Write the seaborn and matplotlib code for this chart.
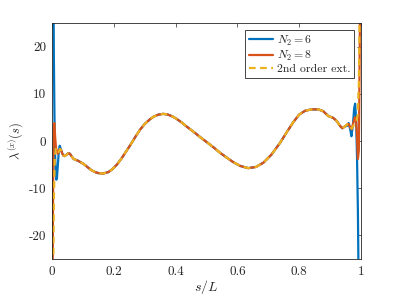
import numpy as np
import pandas as pd
import matplotlib
matplotlib.use("Agg")
import matplotlib.pyplot as plt
import seaborn as sns

# ---- data ----
mid_s = [0.033, 0.037, 0.041, 0.047, 0.053, 0.058, 0.064, 0.070, 0.077, 0.085,
         0.095, 0.101, 0.107, 0.118, 0.128, 0.140, 0.150, 0.165, 0.182, 0.195,
         0.210, 0.225, 0.240, 0.255, 0.270, 0.285, 0.300, 0.317, 0.330, 0.345,
         0.360, 0.375, 0.390, 0.403, 0.420, 0.435, 0.447, 0.465, 0.480, 0.500,
         0.520, 0.544, 0.565, 0.587, 0.610, 0.635, 0.660, 0.684, 0.710, 0.738,
         0.760, 0.781, 0.800, 0.819, 0.840, 0.862, 0.878, 0.894, 0.910, 0.922,
         0.932, 0.940, 0.948]
mid_v = [-2.6, -3.1, -3.2, -2.9, -2.6, -2.7, -3.3, -3.8, -4.0, -4.2,
         -4.6, -4.8, -5.1, -5.7, -6.2, -6.6, -6.8, -6.9, -6.6, -6.0,
         -5.0, -3.7, -2.2, -0.7, 0.9, 2.4, 3.6, 4.6, 5.2, 5.6,
         5.75, 5.6, 5.2, 4.7, 3.9, 3.1, 2.5, 1.6, 0.8, -0.2,
         -1.2, -2.5, -3.5, -4.5, -5.3, -5.75, -5.5, -4.6, -2.9, -0.4,
         1.9, 4.0, 5.6, 6.4, 6.7, 6.7, 6.3, 5.3, 4.9, 4.2,
         3.2, 2.7, 3.1]

n6_left_s = [0.0, 0.002, 0.004, 0.006, 0.008, 0.010, 0.012, 0.014, 0.016, 0.019, 0.022, 0.025, 0.028]
n6_left_v = [95, 70, 40, 18, 5, -3, -7, -8.2, -7.8, -5, -2.2, -1.0, -1.6]
n6_right_s = [0.955, 0.960, 0.965, 0.969, 0.974, 0.978, 0.981, 0.984, 0.987, 0.990, 0.993, 0.996, 1.0]
n6_right_v = [3.2, 3.8, 2.5, 1.0, 3.5, 7.0, 7.9, 5.0, -3, -15, -35, -60, -90]

n8_left_s = [0.0, 0.002, 0.004, 0.006, 0.008, 0.010, 0.013, 0.016, 0.019, 0.022, 0.026, 0.030]
n8_left_v = [-70, -30, -5, 3.5, 3.8, 1.0, -1.5, -2.0, -2.7, -2.2, -1.7, -2.0]
n8_right_s = [0.955, 0.960, 0.965, 0.970, 0.975, 0.980, 0.984, 0.987, 0.990, 0.993, 0.996, 1.0]
n8_right_v = [3.5, 3.6, 2.9, 2.5, 3.8, 5.0, 4.5, 1.0, -3.8, -2.0, 20, 70]

ext_left_s = [0.0, 0.002, 0.004, 0.006, 0.009, 0.012, 0.016, 0.019, 0.022, 0.026, 0.030]
ext_left_v = [-90, -55, -28, -12, -4, -1.7, -1.9, -2.6, -2.2, -1.7, -2.0]
ext_right_s = [0.955, 0.960, 0.965, 0.970, 0.975, 0.980, 0.985, 0.989, 0.993, 0.997, 1.0]
ext_right_v = [3.5, 3.6, 3.0, 2.6, 3.2, 3.8, 4.2, 5.5, 12, 35, 80]

labels = [r"$N_2=6$", r"$N_2=8$", "2nd order ext."]
xticks = [0, 0.2, 0.4, 0.6, 0.8, 1]
xticklabels = ["0", "0.2", "0.4", "0.6", "0.8", "1"]
yticks = [-20, -10, 0, 10, 20]
yticklabels = ["-20", "-10", "0", "10", "20"]

frames = []
for lab, ls_, lv_, rs_, rv_ in [
    (labels[0], n6_left_s, n6_left_v, n6_right_s, n6_right_v),
    (labels[1], n8_left_s, n8_left_v, n8_right_s, n8_right_v),
    (labels[2], ext_left_s, ext_left_v, ext_right_s, ext_right_v),
]:
    s = list(ls_) + list(mid_s) + list(rs_)
    v = list(lv_) + list(mid_v) + list(rv_)
    frames.append(pd.DataFrame({"s": s, "lam": v, "series": lab}))
df = pd.concat(frames, ignore_index=True)

# ---- style ----
sns.set_theme(style="white")
plt.rcParams["font.family"] = ["cmr10", "DejaVu Serif"]
plt.rcParams["mathtext.fontset"] = "cm"
plt.rcParams["axes.unicode_minus"] = False
plt.rcParams["axes.formatter.use_mathtext"] = True

colors = ["#0072BD", "#D95319", "#EDB120"]

fig = plt.figure(figsize=(3.99, 2.98), dpi=100)
ax = fig.add_axes([52 / 399, 1 - 259 / 298, (361 - 52) / 399, (259 - 23) / 298])

for i, lab in enumerate(labels):
    sub = df[df["series"] == lab]
    kw = dict(x="s", y="lam", data=sub, ax=ax, color=colors[i], lw=1.6,
              label=lab, sort=False, estimator=None)
    if i == 2:
        sns.lineplot(**kw, dashes=False, linestyle=(0, (3, 2)))
    else:
        sns.lineplot(**kw)

ax.set_xlim(0, 1)
ax.set_ylim(-25, 25)
ax.set_xticks(xticks)
ax.set_xticklabels(xticklabels)
ax.set_yticks(yticks)
ax.set_yticklabels(yticklabels)
ax.tick_params(direction="in", top=True, right=True, length=3, width=0.5,
               labelsize=9.5, colors="#262626")
ax.tick_params(axis="x", pad=5)
ax.tick_params(axis="y", pad=4)
for sp in ax.spines.values():
    sp.set_visible(True)
    sp.set_color("#262626")
    sp.set_linewidth(0.6)

ax.set_xlabel(r"$s/L$", fontsize=10, labelpad=0)
ax.set_ylabel(r"$\lambda^{(x)}(s)$", fontsize=9, labelpad=2)

leg = ax.legend(loc="upper right", fontsize=8.5, frameon=True, fancybox=False,
                handlelength=2.1, handletextpad=0.3, borderpad=0.3,
                labelspacing=0.1, borderaxespad=0.6)
leg.get_frame().set_edgecolor("#262626")
leg.get_frame().set_linewidth(0.6)
leg.get_frame().set_alpha(1)

fig.savefig("out.png", dpi=100)
